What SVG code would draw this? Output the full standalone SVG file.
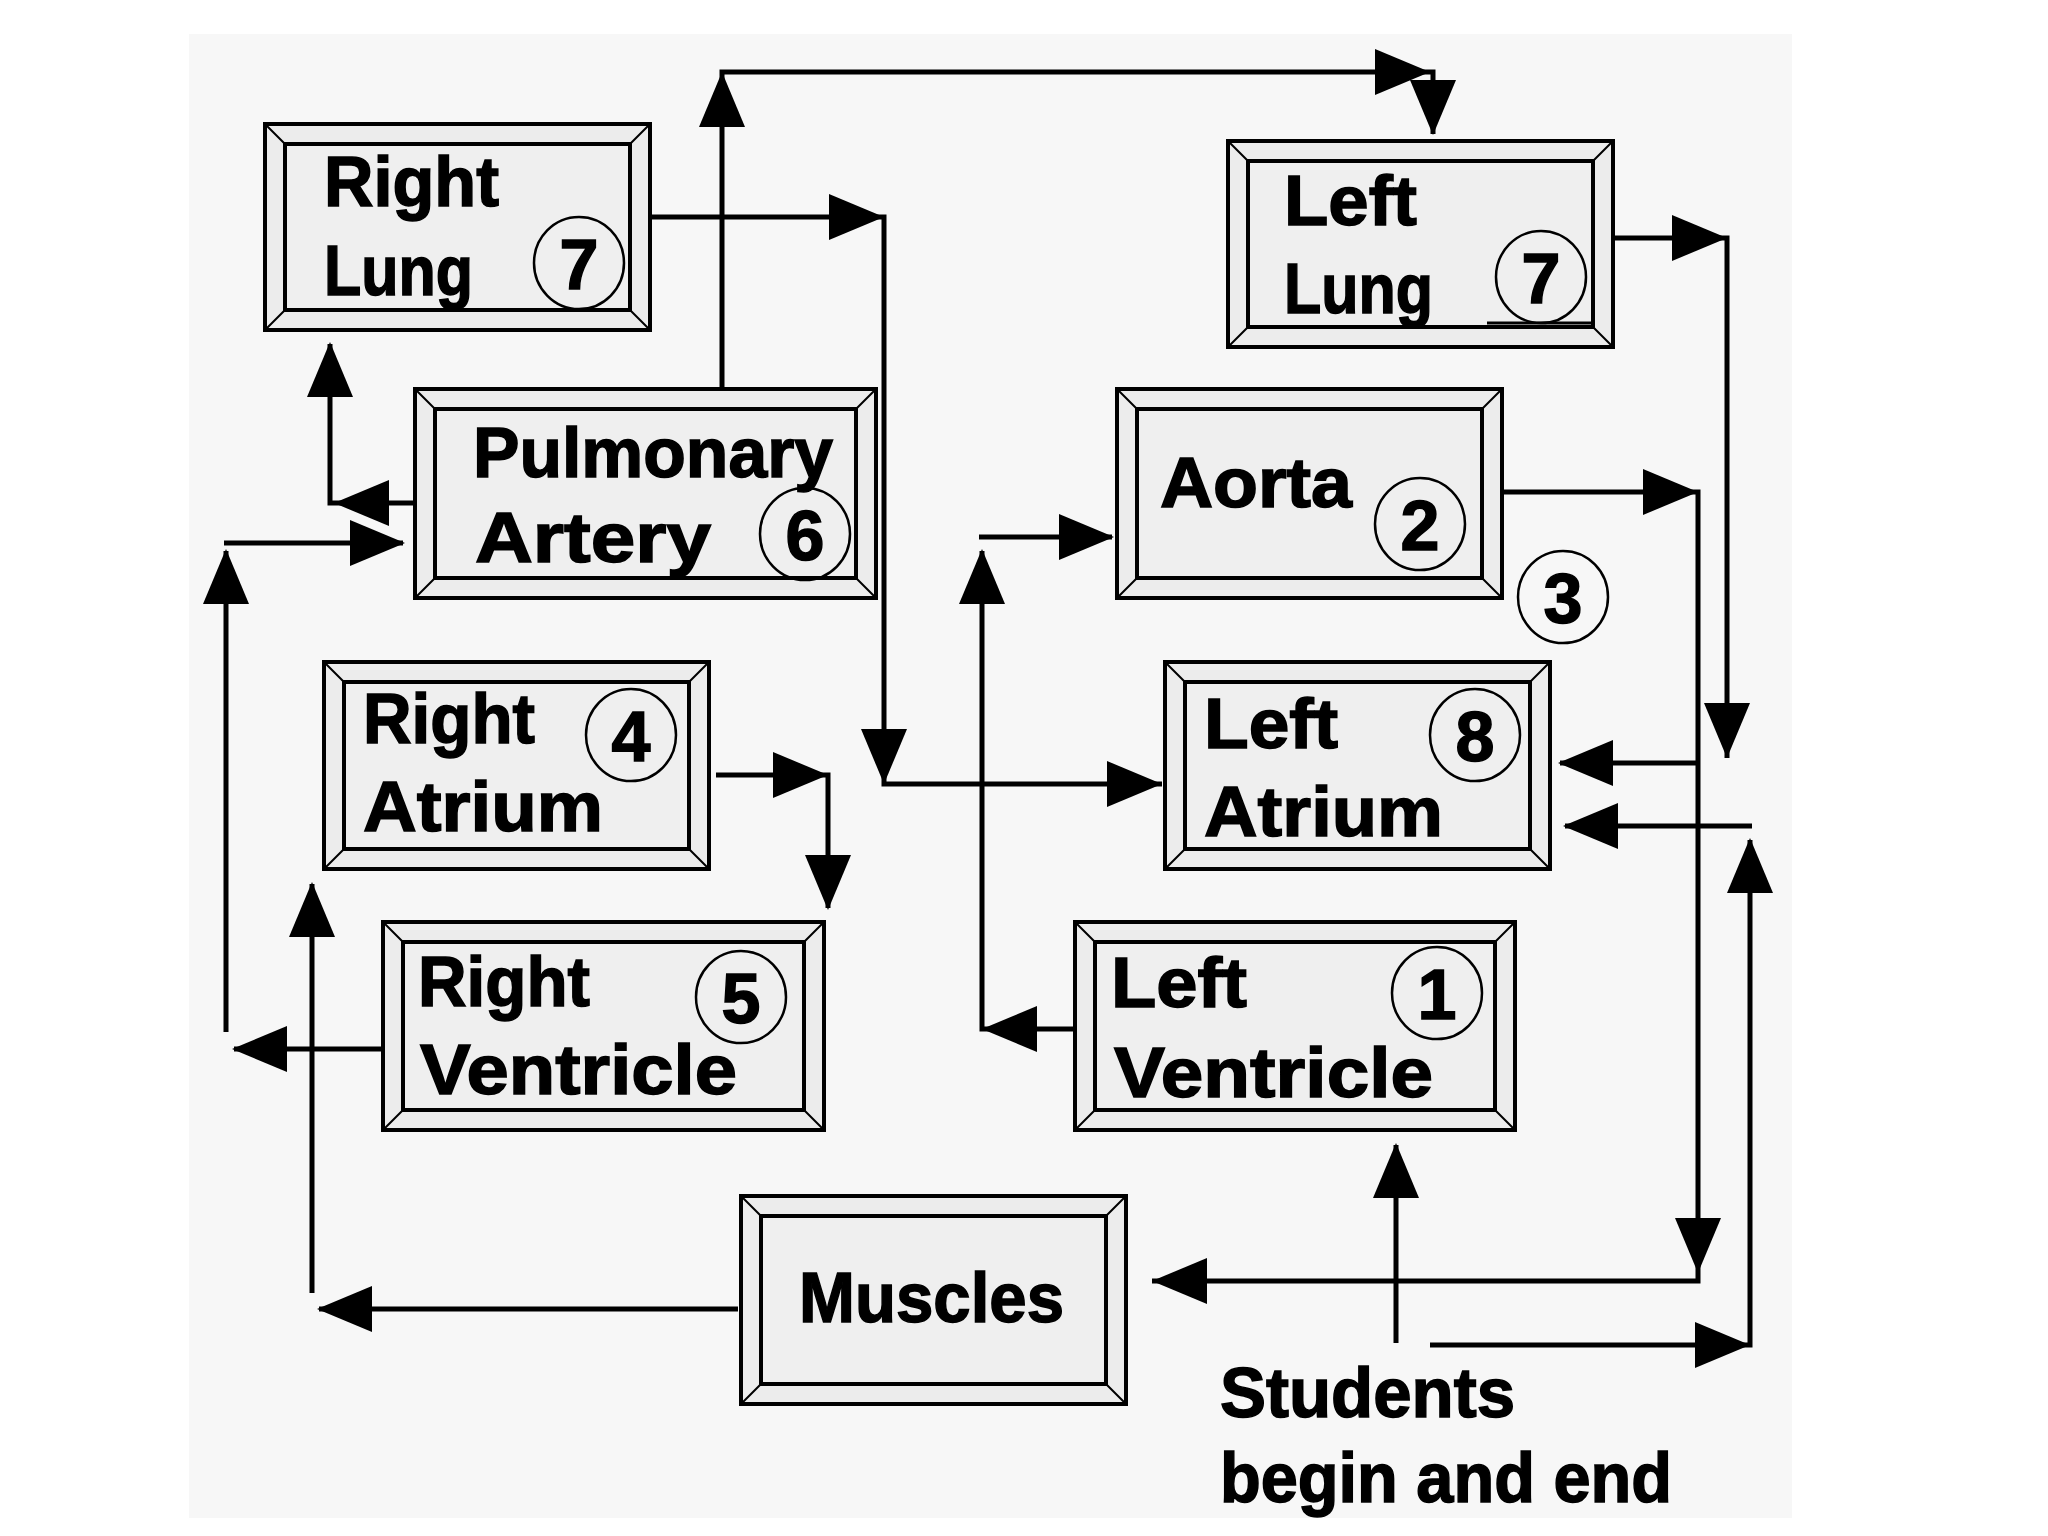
<svg xmlns="http://www.w3.org/2000/svg" xmlns:xlink="http://www.w3.org/1999/xlink" width="2048" height="1536" viewBox="0 0 2048 1536">
<style>
.outer{fill:#ececec;stroke:#000;stroke-width:4}
.inner{fill:#efefef;stroke:#000;stroke-width:4}
.bevel{stroke:#000;stroke-width:2;fill:none}
.lbl{font-family:"Liberation Sans",Arial,sans-serif;font-weight:bold;font-size:70px;fill:#000;stroke:#000;stroke-width:1.5}
.num{fill:none;stroke:#000;stroke-width:2.5}
.dig{font-family:"Liberation Sans",Arial,sans-serif;font-weight:bold;font-size:70px;fill:#000;stroke:#000;stroke-width:1.5;text-anchor:middle}
.ln{stroke:#000;stroke-width:5;fill:none}
</style>
<defs>
<path id="ah" d="M0,0 L-55,-23 L-55,23 Z" fill="#000"/>
</defs>
<rect x="0" y="0" width="2048" height="1536" fill="#ffffff"/>
<rect x="189" y="34" width="1603" height="1484" fill="#f7f7f7"/>

<g id="connectors">
<!-- Right Lung -> Left Atrium -->
<path class="ln" d="M650,217 H884 V784 H1162"/>
<use xlink:href="#ah" transform="translate(884,217)"/>
<use xlink:href="#ah" transform="translate(884,784) rotate(90)"/>
<use xlink:href="#ah" transform="translate(1162,784)"/>
<!-- Pulmonary Artery -> Left Lung -->
<path class="ln" d="M722,389 V72 H1433 V134"/>
<use xlink:href="#ah" transform="translate(722,72) rotate(-90)"/>
<use xlink:href="#ah" transform="translate(1430,72)"/>
<use xlink:href="#ah" transform="translate(1433,135) rotate(90)"/>
<!-- Left Lung -> down -->
<path class="ln" d="M1614,238 H1727 V758"/>
<use xlink:href="#ah" transform="translate(1727,238)"/>
<use xlink:href="#ah" transform="translate(1727,758) rotate(90)"/>
<!-- Aorta -> Muscles -->
<path class="ln" d="M1502,492 H1698 V1281 H1152"/>
<use xlink:href="#ah" transform="translate(1698,492)"/>
<use xlink:href="#ah" transform="translate(1698,1273) rotate(90)"/>
<use xlink:href="#ah" transform="translate(1152,1281) rotate(180)"/>
<!-- branch to Left Atrium -->
<path class="ln" d="M1698,763 H1560"/>
<use xlink:href="#ah" transform="translate(1558,763) rotate(180)"/>
<!-- Students -> Left Atrium -->
<path class="ln" d="M1430,1345 H1750 V840"/>
<use xlink:href="#ah" transform="translate(1750,1345)"/>
<use xlink:href="#ah" transform="translate(1750,838) rotate(-90)"/>
<path class="ln" d="M1752,826 H1565"/>
<use xlink:href="#ah" transform="translate(1563,826) rotate(180)"/>
<!-- Students -> Left Ventricle -->
<path class="ln" d="M1396,1343 V1145"/>
<use xlink:href="#ah" transform="translate(1396,1143) rotate(-90)"/>
<!-- Left Ventricle -> Aorta -->
<path class="ln" d="M1075,1029 H982 V551"/>
<use xlink:href="#ah" transform="translate(982,1029) rotate(180)"/>
<use xlink:href="#ah" transform="translate(982,549) rotate(-90)"/>
<path class="ln" d="M979,537 H1112"/>
<use xlink:href="#ah" transform="translate(1114,537)"/>
<!-- Pulmonary Artery -> Right Lung -->
<path class="ln" d="M415,503 H330 V344"/>
<use xlink:href="#ah" transform="translate(334,503) rotate(180)"/>
<use xlink:href="#ah" transform="translate(330,342) rotate(-90)"/>
<!-- Right Ventricle -> Pulmonary Artery -->
<path class="ln" d="M389,1049 H234"/>
<use xlink:href="#ah" transform="translate(232,1049) rotate(180)"/>
<path class="ln" d="M226,1032 V551"/>
<use xlink:href="#ah" transform="translate(226,549) rotate(-90)"/>
<path class="ln" d="M224,543 H403"/>
<use xlink:href="#ah" transform="translate(405,543)"/>
<!-- Muscles -> Right Atrium -->
<path class="ln" d="M738,1309 H319"/>
<use xlink:href="#ah" transform="translate(317,1309) rotate(180)"/>
<path class="ln" d="M312,1293 V884"/>
<use xlink:href="#ah" transform="translate(312,882) rotate(-90)"/>
<!-- Right Atrium -> Right Ventricle -->
<path class="ln" d="M716,775 H828 V908"/>
<use xlink:href="#ah" transform="translate(828,775)"/>
<use xlink:href="#ah" transform="translate(828,910) rotate(90)"/>
</g>

<g id="right-lung">
<rect class="outer" x="265" y="124" width="385" height="206"/>
<rect class="inner" x="285" y="144" width="345" height="166"/>
<path class="bevel" d="M265,124 l20,20 M650,124 l-20,20 M265,330 l20,-20 M650,330 l-20,-20"/>
<text class="lbl" x="324" y="206" textLength="175" lengthAdjust="spacingAndGlyphs">Right</text>
<text class="lbl" x="324" y="295" textLength="149" lengthAdjust="spacingAndGlyphs">Lung</text>
<ellipse class="num" cx="579" cy="263" rx="45" ry="46"/>
<text class="dig" x="579" y="289">7</text>
</g>

<g id="left-lung">
<rect class="outer" x="1228" y="141" width="385" height="206"/>
<rect class="inner" x="1248" y="161" width="345" height="166"/>
<path class="bevel" d="M1228,141 l20,20 M1613,141 l-20,20 M1228,347 l20,-20 M1613,347 l-20,-20"/>
<path d="M1487,323 H1593" stroke="#000" stroke-width="3"/>
<text class="lbl" x="1284" y="225" textLength="133" lengthAdjust="spacingAndGlyphs">Left</text>
<text class="lbl" x="1284" y="313" textLength="149" lengthAdjust="spacingAndGlyphs">Lung</text>
<ellipse class="num" cx="1541" cy="277" rx="45" ry="46"/>
<text class="dig" x="1541" y="303">7</text>
</g>

<g id="pulmonary-artery">
<rect class="outer" x="415" y="389" width="461" height="209"/>
<rect class="inner" x="435" y="409" width="421" height="169"/>
<path class="bevel" d="M415,389 l20,20 M876,389 l-20,20 M415,598 l20,-20 M876,598 l-20,-20"/>
<text class="lbl" x="473" y="477" textLength="360" lengthAdjust="spacingAndGlyphs">Pulmonary</text>
<text class="lbl" x="475" y="562" textLength="236" lengthAdjust="spacingAndGlyphs">Artery</text>
<ellipse class="num" cx="805" cy="534" rx="45" ry="46"/>
<text class="dig" x="805" y="560">6</text>
</g>

<g id="aorta">
<rect class="outer" x="1117" y="389" width="385" height="209"/>
<rect class="inner" x="1137" y="409" width="345" height="169"/>
<path class="bevel" d="M1117,389 l20,20 M1502,389 l-20,20 M1117,598 l20,-20 M1502,598 l-20,-20"/>
<text class="lbl" x="1160" y="507" textLength="192" lengthAdjust="spacingAndGlyphs">Aorta</text>
<ellipse class="num" cx="1420" cy="524" rx="45" ry="46"/>
<text class="dig" x="1420" y="550">2</text>
</g>

<g id="step-3">
<ellipse class="num" cx="1563" cy="597" rx="45" ry="46"/>
<text class="dig" x="1563" y="623">3</text>
</g>

<g id="right-atrium">
<rect class="outer" x="324" y="662" width="385" height="207"/>
<rect class="inner" x="344" y="682" width="345" height="167"/>
<path class="bevel" d="M324,662 l20,20 M709,662 l-20,20 M324,869 l20,-20 M709,869 l-20,-20"/>
<text class="lbl" x="363" y="743" textLength="172" lengthAdjust="spacingAndGlyphs">Right</text>
<text class="lbl" x="363" y="831" textLength="240" lengthAdjust="spacingAndGlyphs">Atrium</text>
<ellipse class="num" cx="631" cy="735" rx="45" ry="46"/>
<text class="dig" x="631" y="761">4</text>
</g>

<g id="left-atrium">
<rect class="outer" x="1165" y="662" width="385" height="207"/>
<rect class="inner" x="1185" y="682" width="345" height="167"/>
<path class="bevel" d="M1165,662 l20,20 M1550,662 l-20,20 M1165,869 l20,-20 M1550,869 l-20,-20"/>
<text class="lbl" x="1204" y="748" textLength="134" lengthAdjust="spacingAndGlyphs">Left</text>
<text class="lbl" x="1204" y="836" textLength="239" lengthAdjust="spacingAndGlyphs">Atrium</text>
<ellipse class="num" cx="1475" cy="735" rx="45" ry="46"/>
<text class="dig" x="1475" y="761">8</text>
</g>

<g id="right-ventricle">
<rect class="outer" x="383" y="922" width="441" height="208"/>
<rect class="inner" x="403" y="942" width="401" height="168"/>
<path class="bevel" d="M383,922 l20,20 M824,922 l-20,20 M383,1130 l20,-20 M824,1130 l-20,-20"/>
<text class="lbl" x="418" y="1006" textLength="172" lengthAdjust="spacingAndGlyphs">Right</text>
<text class="lbl" x="420" y="1094" textLength="317" lengthAdjust="spacingAndGlyphs">Ventricle</text>
<ellipse class="num" cx="741" cy="997" rx="45" ry="46"/>
<text class="dig" x="741" y="1023">5</text>
</g>

<g id="left-ventricle">
<rect class="outer" x="1075" y="922" width="440" height="208"/>
<rect class="inner" x="1095" y="942" width="400" height="168"/>
<path class="bevel" d="M1075,922 l20,20 M1515,922 l-20,20 M1075,1130 l20,-20 M1515,1130 l-20,-20"/>
<text class="lbl" x="1111" y="1007" textLength="136" lengthAdjust="spacingAndGlyphs">Left</text>
<text class="lbl" x="1114" y="1097" textLength="319" lengthAdjust="spacingAndGlyphs">Ventricle</text>
<ellipse class="num" cx="1437" cy="993" rx="45" ry="46"/>
<text class="dig" x="1437" y="1019">1</text>
</g>

<g id="muscles">
<rect class="outer" x="741" y="1196" width="385" height="208"/>
<rect class="inner" x="761" y="1216" width="345" height="168"/>
<path class="bevel" d="M741,1196 l20,20 M1126,1196 l-20,20 M741,1404 l20,-20 M1126,1404 l-20,-20"/>
<text class="lbl" x="799" y="1322" textLength="265" lengthAdjust="spacingAndGlyphs">Muscles</text>
</g>

<g id="students-note">
<text class="lbl" x="1220" y="1417" textLength="295" lengthAdjust="spacingAndGlyphs">Students</text>
<text class="lbl" x="1220" y="1502" textLength="452" lengthAdjust="spacingAndGlyphs">begin and end</text>
</g>
</svg>
